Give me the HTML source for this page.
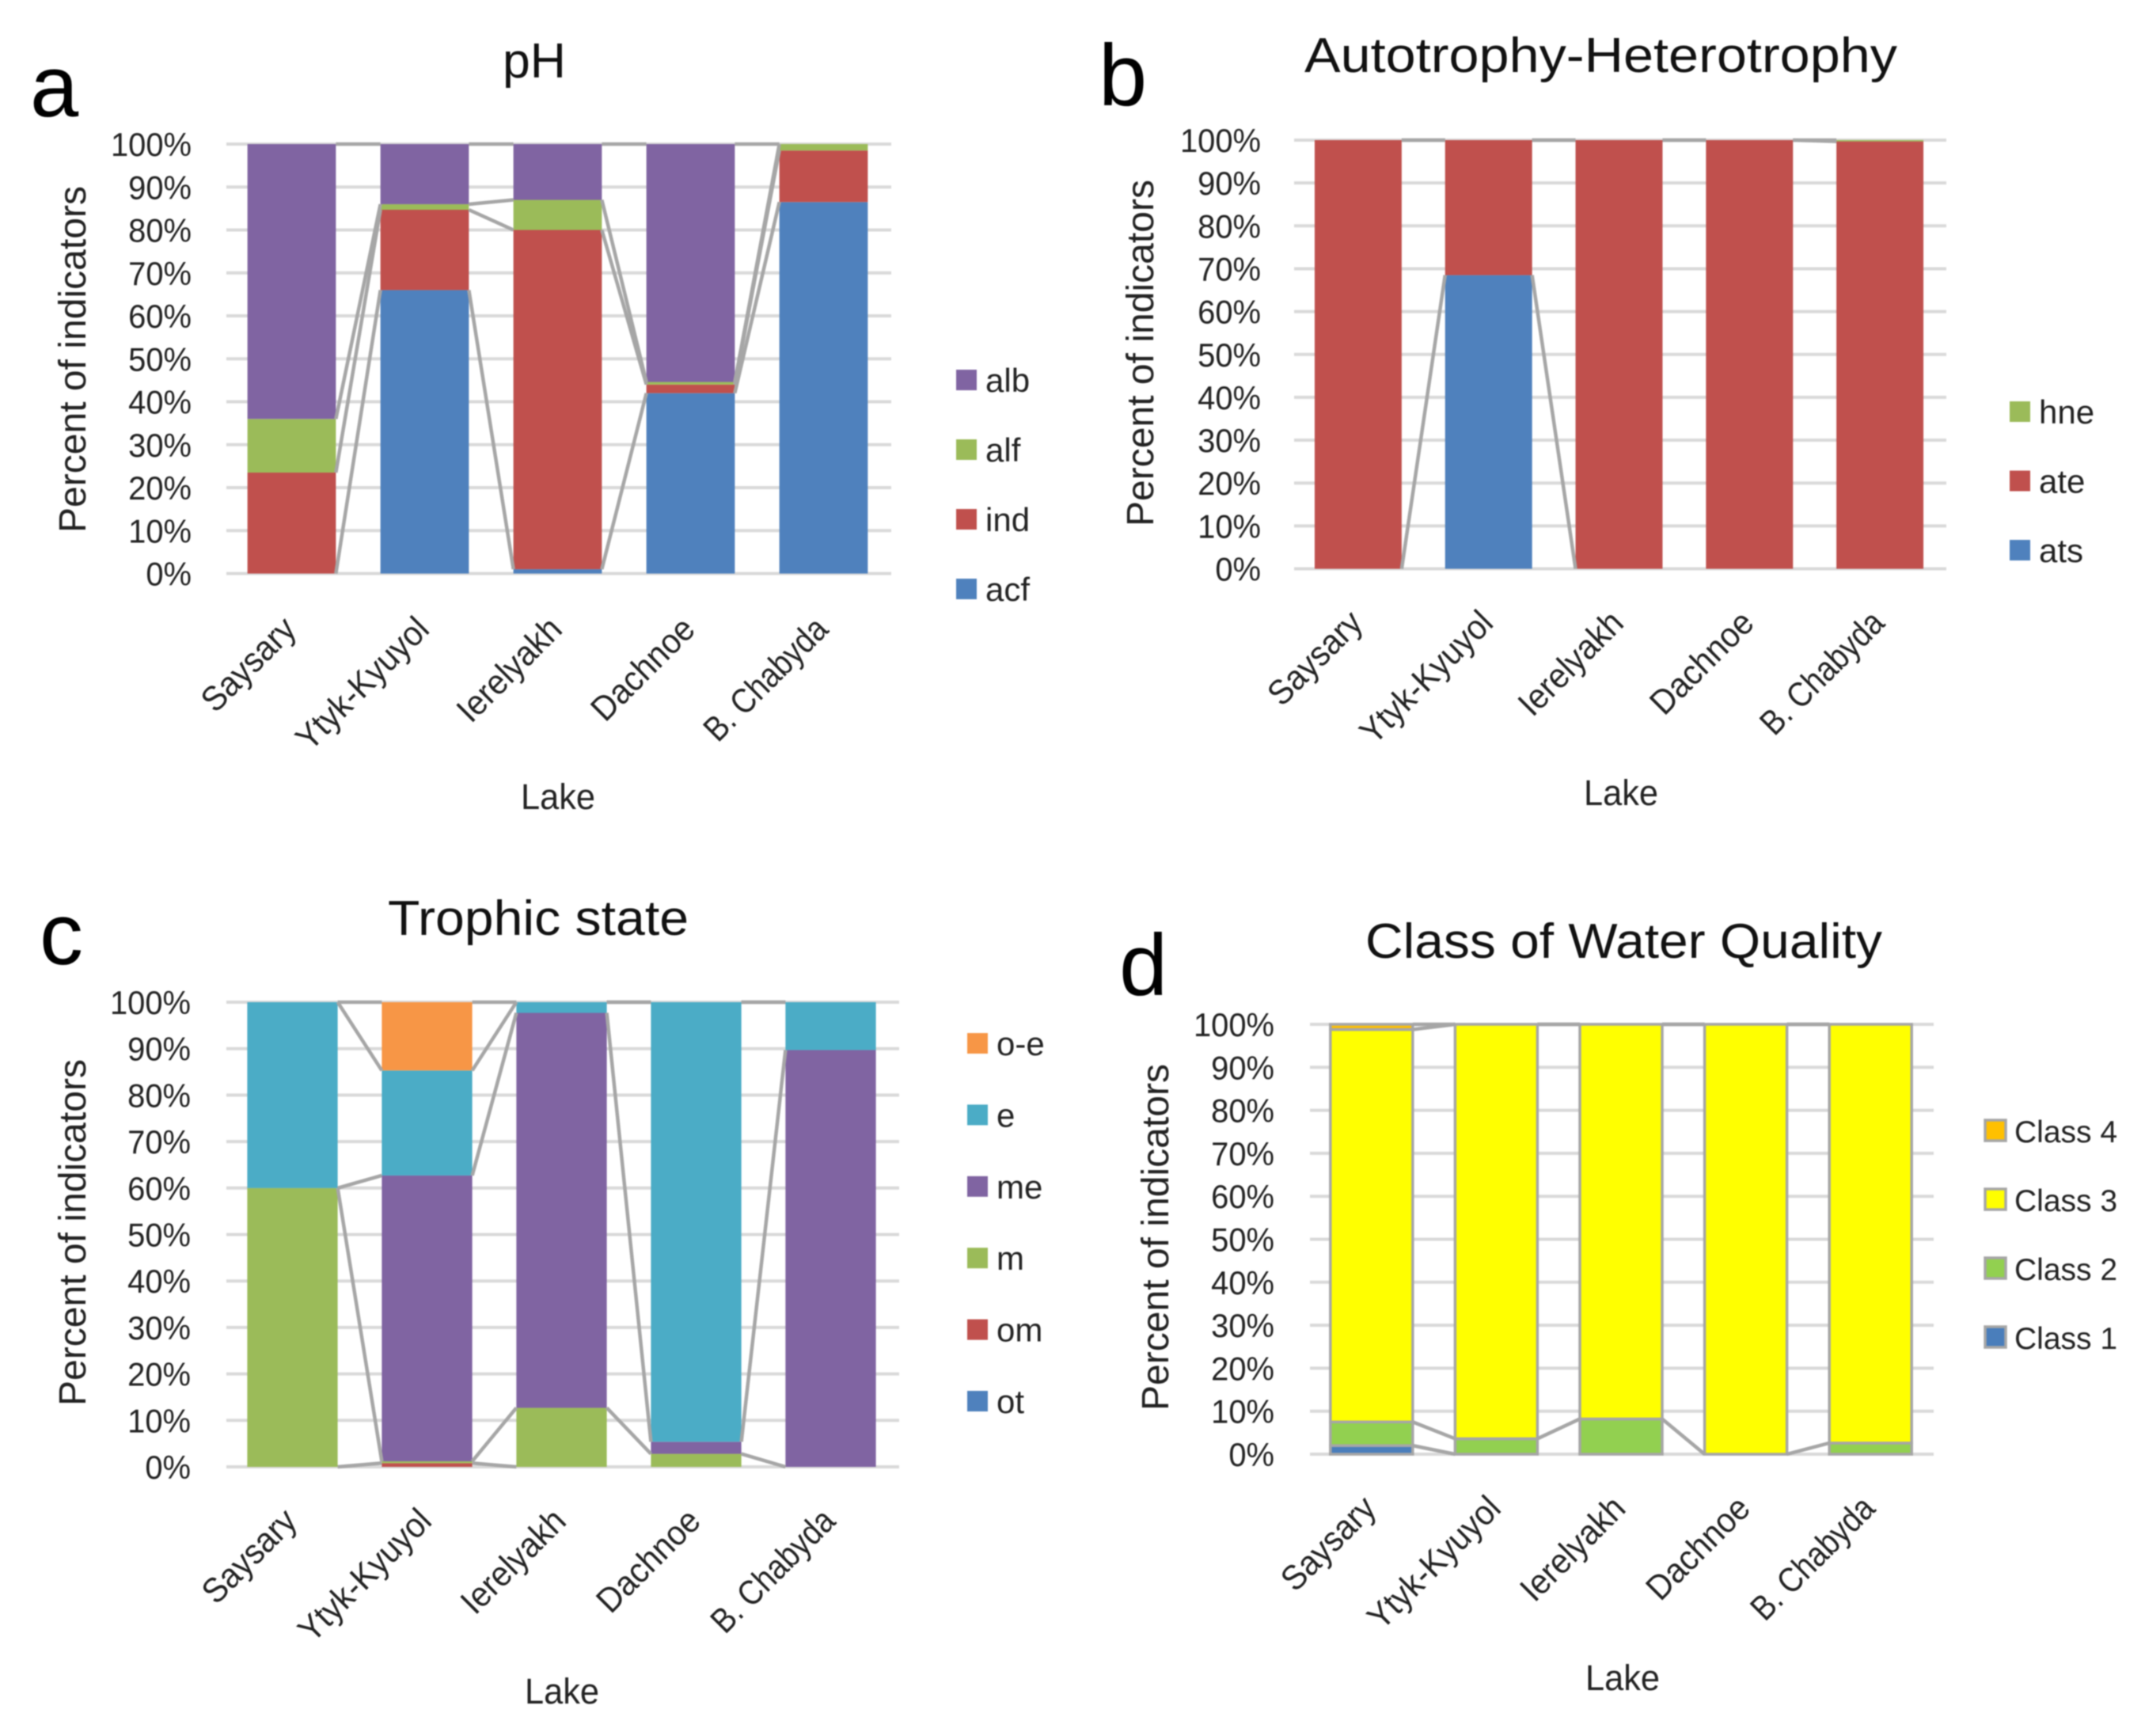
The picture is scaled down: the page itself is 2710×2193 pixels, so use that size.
<!DOCTYPE html>
<html lang="en">
<head>
<meta charset="utf-8">
<title>Lake indicator charts</title>
<style>
html,body{margin:0;padding:0;background:#fff;}
svg{display:block;font-family:"Liberation Sans",sans-serif;filter:blur(0.7px);}
text{fill:#222222;}
.panel-letter{font-size:110px;fill:#000;}
.title{font-size:62px;fill:#111;}
.axis-title{font-size:48px;}
.lake{font-size:45px;}
</style>
</head>
<body>
<svg id="figure" xmlns="http://www.w3.org/2000/svg" width="2710" height="2193" viewBox="0 0 2710 2193">
  <rect width="2710" height="2193" fill="#ffffff"/>
  <g id="panel-a">
    <text class="panel-letter" x="38" y="147">a</text>
    <text class="title" x="675" y="98" text-anchor="middle" textLength="80" lengthAdjust="spacingAndGlyphs">pH</text>
    <text class="axis-title" transform="translate(108 673) rotate(-90)" textLength="438" lengthAdjust="spacingAndGlyphs">Percent of indicators</text>
    <text class="lake" x="705" y="1022" text-anchor="middle" textLength="94" lengthAdjust="spacingAndGlyphs">Lake</text>
  </g>
  <g id="panel-b">
    <text class="panel-letter" x="1388" y="133">b</text>
    <text class="title" x="1648" y="91" textLength="749" lengthAdjust="spacingAndGlyphs">Autotrophy-Heterotrophy</text>
    <text class="axis-title" transform="translate(1457 665) rotate(-90)" textLength="438" lengthAdjust="spacingAndGlyphs">Percent of indicators</text>
    <text class="lake" x="2048" y="1017" text-anchor="middle" textLength="94" lengthAdjust="spacingAndGlyphs">Lake</text>
  </g>
  <g id="panel-c">
    <text class="panel-letter" x="50" y="1218">c</text>
    <text class="title" x="490" y="1181" textLength="380" lengthAdjust="spacingAndGlyphs">Trophic state</text>
    <text class="axis-title" transform="translate(108 1776) rotate(-90)" textLength="438" lengthAdjust="spacingAndGlyphs">Percent of indicators</text>
    <text class="lake" x="710" y="2152" text-anchor="middle" textLength="94" lengthAdjust="spacingAndGlyphs">Lake</text>
  </g>
  <g id="panel-d">
    <text class="panel-letter" x="1414" y="1257">d</text>
    <text class="title" x="1725" y="1210" textLength="653" lengthAdjust="spacingAndGlyphs">Class of Water Quality</text>
    <text class="axis-title" transform="translate(1476 1782) rotate(-90)" textLength="438" lengthAdjust="spacingAndGlyphs">Percent of indicators</text>
    <text class="lake" x="2050" y="2135" text-anchor="middle" textLength="94" lengthAdjust="spacingAndGlyphs">Lake</text>
  </g>
</svg>
<script>
const categories = ['Saysary', 'Ytyk-Kyuyol', 'Ierelyakh', 'Dachnoe', 'B. Chabyda'];
const tickValues = [0, 10, 20, 30, 40, 50, 60, 70, 80, 90, 100];
const tickLabels = ['0%', '10%', '20%', '30%', '40%', '50%', '60%', '70%', '80%', '90%', '100%'];

const phSeriesNames = ['acf', 'ind', 'alf', 'alb'];
const phAcf = [0, 66, 1, 42, 86.5];
const phInd = [23.5, 18.7, 79, 2, 12];
const phAlf = [12.5, 1.3, 7, 0.6, 1.5];
const phAlb = [64, 14, 13, 55.4, 0];

const autoSeriesNames = ['ats', 'ate', 'hne'];
const autoAts = [0, 68.5, 0, 0, 0];
const autoAte = [100, 31.5, 100, 100, 99.7];
const autoHne = [0, 0, 0, 0, 0.3];

const trophicSeriesNames = ['ot', 'om', 'm', 'me', 'e', 'o-e'];
const trophicOt = [0, 0, 0, 0, 0];
const trophicOm = [0, 0.8, 0, 0, 0];
const trophicM = [60, 0.4, 12.7, 2.8, 0];
const trophicMe = [0, 61.5, 85, 2.6, 89.7];
const trophicE = [40, 22.6, 2.3, 94.6, 10.3];
const trophicOe = [0, 14.7, 0, 0, 0];

const classSeriesNames = ['Class 1', 'Class 2', 'Class 3', 'Class 4'];
const classOne = [2, 0, 0, 0, 0];
const classTwo = [5.5, 3.6, 8.2, 0, 2.6];
const classThree = [91.3, 96.4, 91.8, 100, 97.4];
const classFour = [1.2, 0, 0, 0, 0];

const SVGNS = 'http://www.w3.org/2000/svg';
const GRID = '#d9d9d9';
const CONNECTOR = '#a6a6a6';

function make(parent, tag, attrs, content) {
  const node = document.createElementNS(SVGNS, tag);
  Object.keys(attrs).forEach(function (k) { node.setAttribute(k, attrs[k]); });
  if (content !== undefined) node.textContent = content;
  parent.appendChild(node);
  return node;
}

function condense(node, factor) {
  const natural = node.getComputedTextLength();
  node.setAttribute('textLength', natural * factor);
  node.setAttribute('lengthAdjust', 'spacingAndGlyphs');
}

function drawChart(c) {
  const root = document.getElementById(c.panel);
  const scaleY = function (v) { return c.y0 - (v / 100) * (c.y0 - c.y100); };
  const band = (c.x1 - c.x0) / categories.length;
  const barW = band * c.barRatio;
  const barLeft = function (i) { return c.x0 + band * i + (band - barW) / 2 + c.barShift; };

  tickValues.forEach(function (v, i) {
    const grid = make(root, 'line', { x1: c.x0, x2: c.x1, y1: scaleY(v), y2: scaleY(v), stroke: GRID, 'stroke-width': 4 });
    
    
    const label = make(root, 'text', { x: c.tickX, y: scaleY(v) + 15, 'text-anchor': 'end', 'font-size': 42 }, tickLabels[i]);
    condense(label, 0.95);
    
    
  });

  const running = categories.map(function () { return 0; });
  const tops = [];
  c.series.forEach(function (values, s) {
    const top = [];
    values.forEach(function (v, i) {
      const start = running[i];
      running[i] = start + v;
      top.push(running[i]);
      if (v <= 0) return;
      const attrs = { x: barLeft(i), y: scaleY(running[i]), width: barW, height: scaleY(start) - scaleY(running[i]), fill: c.colors[s] };
      if (c.barStroke) { attrs.stroke = c.barStroke; attrs['stroke-width'] = 3.5; }
      const bar = make(root, 'rect', attrs);
      
      
    });
    tops.push(top);
  });

  tops.forEach(function (top) {
    for (let i = 0; i < top.length - 1; i++) {
      if (top[i] === 0 && top[i + 1] === 0) continue;
      const link = make(root, 'line', { x1: barLeft(i) + barW, y1: scaleY(top[i]), x2: barLeft(i + 1), y2: scaleY(top[i + 1]), stroke: CONNECTOR, 'stroke-width': 4.5 });
      
      
    }
  });

  categories.forEach(function (name, i) {
    const ax = barLeft(i) + barW / 2 + c.labelDx;
    const ay = c.y0 + c.labelDy;
    const label = make(root, 'text', { transform: 'translate(' + ax + ' ' + ay + ') rotate(-45)', 'text-anchor': 'end', 'font-size': 44 }, name);
    condense(label, name === 'B. Chabyda' ? 0.87 : 0.93);
    
    
  });

  c.names.forEach(function (name, s) {
    const row = c.names.length - 1 - s;
    const cy = c.legendTop + row * c.legendStep;
    const attrs = { x: c.legendX, y: cy - 13, width: 26, height: 26, fill: c.colors[s] };
    if (c.barStroke) { attrs.stroke = c.barStroke; attrs['stroke-width'] = 3.5; }
    const swatch = make(root, 'rect', attrs);
    
    
    const text = make(root, 'text', { x: c.legendX + 37, y: cy + 15, 'font-size': c.legendFont }, name);
    
    
  });
}

drawChart({
  panel: 'panel-a', x0: 286, x1: 1126, y0: 724.5, y100: 182, barRatio: 0.665, barShift: -1.5, tickX: 242,
  labelDx: 8, labelDy: 73, legendX: 1208, legendTop: 480, legendStep: 88, legendFont: 42,
  series: [phAcf, phInd, phAlf, phAlb], names: phSeriesNames,
  colors: ['#4f81bd', '#c0504d', '#9bbb59', '#8064a2']
});
drawChart({
  panel: 'panel-b', x0: 1635, x1: 2459, y0: 718.5, y100: 177, barRatio: 0.667, barShift: -1.5, tickX: 1593,
  labelDx: 8, labelDy: 71, legendX: 2539, legendTop: 520, legendStep: 87.5, legendFont: 42,
  series: [autoAts, autoAte, autoHne], names: autoSeriesNames,
  colors: ['#4f81bd', '#c0504d', '#9bbb59']
});
drawChart({
  panel: 'panel-c', x0: 286, x1: 1136, y0: 1853, y100: 1266, barRatio: 0.672, barShift: -1.5, tickX: 241,
  labelDx: 8, labelDy: 71, legendX: 1222, legendTop: 1318, legendStep: 90.4, legendFont: 42,
  series: [trophicOt, trophicOm, trophicM, trophicMe, trophicE, trophicOe], names: trophicSeriesNames,
  colors: ['#4f81bd', '#c0504d', '#9bbb59', '#8064a2', '#4bacc6', '#f79646']
});
drawChart({
  panel: 'panel-d', x0: 1655, x1: 2443, y0: 1837, y100: 1294, barRatio: 0.66, barShift: -1, tickX: 1610,
  labelDx: 8, labelDy: 71, legendX: 2508, legendTop: 1428, legendStep: 87, legendFont: 39,
  series: [classOne, classTwo, classThree, classFour], names: classSeriesNames,
  colors: ['#4a7ebb', '#92d050', '#ffff00', '#ffc000'], barStroke: '#a6a6a6'
});
</script>
</body>
</html>
